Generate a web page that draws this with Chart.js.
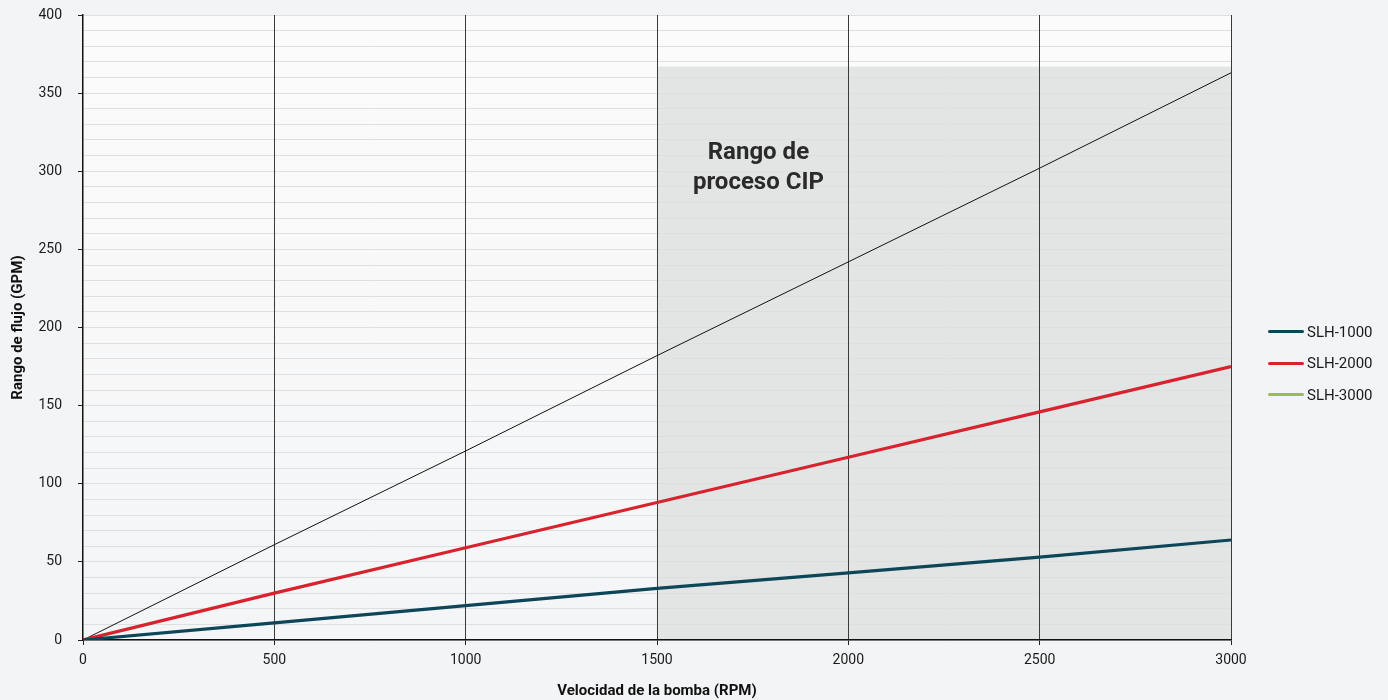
<!DOCTYPE html>
<html><head><meta charset="utf-8">
<script src="https://cdn.jsdelivr.net/npm/chart.js@4"></script>
<style>
html,body{margin:0;padding:0;background:#f3f4f6;}
#wrap{position:relative;width:1388px;height:700px;}
#legend{position:absolute;left:1268px;top:316px;font-family:"Roboto",sans-serif;font-size:15px;color:#1a1a1a;}
#legend div{height:31.5px;display:flex;align-items:center;}
#legend span.l{display:inline-block;width:36px;height:3px;border-radius:2px;margin-right:3px;}
</style></head>
<body><div id="wrap"><canvas id="c" width="1388" height="700"></canvas><div id="legend"></div></div>
<script>
const rpm = [0, 500, 1000, 1500, 2000, 2500, 3000];
const slh1000 = [0, 11, 22, 33, 43, 53, 64];
const slh2000 = [0, 30, 59, 88, 117, 146, 175];
const slh3000 = [0, 61, 121, 182, 242, 302, 363];
const seriesNames = ['SLH-1000', 'SLH-2000', 'SLH-3000'];
const cipRange = {xFrom: 1500, xTo: 3000, yTop: 367};
const cipLabel = ['Rango de', 'proceso CIP'];
const xTitle = 'Velocidad de la bomba (RPM)';
const yTitle = 'Rango de flujo (GPM)';

const FONT = '"Roboto",sans-serif';
const lineColors = ['#0d4658', '#d8232f', '#111111'];
const legendColors = ['#0d4658', '#d8232f', '#9bbb59'];

const toPts = arr => rpm.map((x, i) => ({x, y: arr[i]}));

const bgPlugin = {
  id: 'bg',
  beforeDraw(chart) {
    const {ctx, chartArea: a, scales: {x, y}} = chart;
    ctx.save();
    const g = ctx.createLinearGradient(a.left, a.top, a.left, a.bottom);
    g.addColorStop(0, '#fbfbfc'); g.addColorStop(1, '#f4f5f6');
    ctx.fillStyle = g;
    ctx.fillRect(a.left, a.top, a.right - a.left, a.bottom - a.top);
    const x0 = x.getPixelForValue(cipRange.xFrom), x1 = x.getPixelForValue(cipRange.xTo);
    const y0 = y.getPixelForValue(cipRange.yTop), y1 = y.getPixelForValue(0);
    ctx.fillStyle = '#e3e5e5';
    ctx.fillRect(x0, y0, x1 - x0, y1 - y0);
    ctx.restore();
  },
  afterDatasetsDraw(chart) {
    const {ctx, scales: {x, y}} = chart;
    ctx.save();
    ctx.fillStyle = '#2a2a2a';
    ctx.font = 'bold 24px ' + FONT;
    ctx.textAlign = 'center';
    ctx.textBaseline = 'middle';
    const cx = x.getPixelForValue(1765);
    ctx.fillText(cipLabel[0], cx, y.getPixelForValue(312));
    ctx.fillText(cipLabel[1], cx, y.getPixelForValue(292.5));
    ctx.restore();
  }
};

new Chart(document.getElementById('c'), {
  type: 'line',
  data: {
    datasets: [
      {label: seriesNames[0], data: toPts(slh1000), borderColor: lineColors[0], borderWidth: 3.2, pointRadius: 0, tension: 0},
      {label: seriesNames[1], data: toPts(slh2000), borderColor: lineColors[1], borderWidth: 3.2, pointRadius: 0, tension: 0},
      {label: seriesNames[2], data: toPts(slh3000), borderColor: lineColors[2], borderWidth: 1, pointRadius: 0, tension: 0}
    ]
  },
  plugins: [bgPlugin],
  options: {
    responsive: false,
    animation: false,
    layout: {padding: {top: 15, right: 157, left: 0, bottom: 0}},
    plugins: {legend: {display: false}, tooltip: {enabled: false}},
    scales: {
      x: {
        type: 'linear', min: 0, max: 3000,
        afterFit(s) { s.height = 60; },
        ticks: {stepSize: 500, autoSkip: false, maxRotation: 0, color: '#1a1a1a', font: {family: FONT, size: 14}, padding: 7,
          callback: v => String(v)},
        grid: {z: -1, color: ctx => ctx.tick && ctx.tick.value === 0 ? 'rgba(0,0,0,0)' : '#3a3a3a', lineWidth: 1, tickLength: 5, tickColor: '#222'},
        border: {color: '#111', width: 1.5},
        title: {display: true, text: xTitle, color: '#111', font: {family: FONT, size: 15, weight: 'bold'}, padding: {top: 0, bottom: 0}}
      },
      y: {
        type: 'linear', min: 0, max: 400,
        afterFit(s) { s.width = 83; s.paddingTop = 0; s.paddingBottom = 0; },
        ticks: {stepSize: 10, autoSkip: false, color: '#1a1a1a', font: {family: FONT, size: 14}, padding: 16,
          callback: v => (v % 50 === 0 ? String(v) : '')},
        grid: {z: -2, color: '#dedfe1', lineWidth: 1, tickLength: 5,
          tickColor: ctx => (ctx.tick && ctx.tick.value % 50 === 0 ? '#222' : 'rgba(0,0,0,0)')},
        border: {color: '#111', width: 1.5},
        title: {display: true, text: yTitle, color: '#111', font: {family: FONT, size: 15, weight: 'bold'}, padding: {top: 9, bottom: 0}}
      }
    }
  }
});

const lg = document.getElementById('legend');
seriesNames.forEach((n, i) => {
  const d = document.createElement('div');
  d.innerHTML = '<span class="l" style="background:' + legendColors[i] + '"></span>' + n;
  lg.appendChild(d);
});
</script></body></html>
